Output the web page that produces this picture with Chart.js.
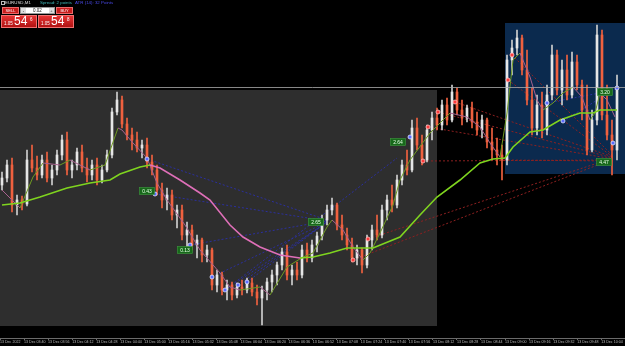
<!DOCTYPE html>
<html>
<head>
<meta charset="utf-8">
<script src="https://cdn.jsdelivr.net/npm/chart.js@4.4.0/dist/chart.umd.min.js"></script>
<style>
  html, body { margin: 0; padding: 0; background: #000; }
  #wrap { position: relative; width: 625px; height: 346px; overflow: hidden; background: #000; }
  #chart { position: absolute; left: 0; top: 0; }
  #panel { position: absolute; left: 0; top: 0; width: 120px; height: 30px; font-family: 'Liberation Sans', Arial, sans-serif; }
  #panel div, #panel span { position: absolute; white-space: nowrap; }
  .top { top: 0; height: 6px; font-size: 4.4px; line-height: 6px; }
  .ico { left: 1px; top: 1px; width: 2px; height: 2px; border: 1px solid #bbb; }
  .sym { left: 5px; color: #ddd; }
  .spr { left: 40px; color: #3fb7b7; }
  .atr { left: 75px; color: #4a4ae8; }
  .btn { top: 7px; width: 17px; height: 7px; box-sizing: border-box; background: #c81d1d; border: 1px solid #e96a6a;
         color: #fff; font-size: 4px; line-height: 5px; text-align: center; }
  .spin { top: 7px; left: 20px; width: 35px; height: 7px; background: #fff; box-sizing: border-box; border: 1px solid #999; }
  .spin .m, .spin .p { top: 0; width: 5px; height: 5px; background: #ddd; color: #333; font-size: 4px; line-height: 5px; text-align: center; }
  .spin .m { left: 0; }
  .spin .p { right: 0; }
  .spin .v { left: 0; width: 33px; top: 0; text-align: center; font-size: 4.5px; line-height: 5px; color: #111; }
  .px { top: 15px; width: 36px; height: 13px; box-sizing: border-box; background: linear-gradient(#e63434, #b01212);
        border: 1px solid #f07070; color: #fff; }
  .px .a { left: 2px; top: 5px; font-size: 4.5px; line-height: 5px; }
  .px .b { left: 12px; top: -1px; font-size: 12px; line-height: 13px; }
  .px .c { left: 28px; top: 1px; font-size: 4.5px; line-height: 5px; }
</style>
</head>
<body>
<div id="wrap">
  <canvas id="chart" width="625" height="346"></canvas>
  <div id="panel">
    <div class="top ico"></div>
    <div class="top sym">EURUSD,M1</div>
    <div class="top spr">Spread: 2 points</div>
    <div class="top atr">ATR (14): 32 Points</div>
    <div class="btn" style="left:2px">SELL</div>
    <div class="spin"><span class="v">0.02</span><span class="m">-</span><span class="p">+</span></div>
    <div class="btn" style="left:56px">BUY</div>
    <div class="px" style="left:1px"><span class="a">1.05</span><span class="b">54</span><span class="c">6</span></div>
    <div class="px" style="left:38px"><span class="a">1.05</span><span class="b">54</span><span class="c">8</span></div>
  </div>
</div>
<script>
// EURUSD prices, in points above 1.05000 (e.g. 546 = 1.05546)
const opens = [
  448,455,468,428,433,429,473,465,458,473,
  455,463,478,493,463,468,481,465,458,468,
  453,463,478,521,533,509,498,493,485,488,
  471,463,443,433,438,418,423,398,403,388,
  393,378,383,348,358,343,348,338,346,343,
  350,341,335,343,351,358,368,381,358,363,
  358,383,375,388,397,413,423,428,408,398,
  388,375,383,368,393,403,398,423,433,428,
  453,468,463,505,488,473,503,515,508,528,
  513,541,523,515,525,511,503,513,491,483,
  478,473,573,585,595,563,533,505,528,503,
  538,578,543,563,538,571,548,523,483,513,
  598,518,498,483
];
const highs = [
  461,473,475,438,437,483,488,477,478,481,
  468,483,498,501,473,485,488,475,473,475,
  468,483,525,541,537,515,505,501,493,495,
  478,468,450,445,443,428,428,411,408,398,
  395,388,385,363,361,353,351,350,353,355,
  355,348,347,355,363,371,385,388,368,371,
  388,390,393,401,418,428,435,430,418,405,
  395,388,385,398,408,418,428,438,448,458,
  473,483,513,515,498,508,521,525,533,535,
  548,545,533,528,531,521,518,515,505,495,
  488,578,593,603,598,583,545,538,541,548,
  588,583,573,578,581,578,553,548,523,608,
  603,548,513,558
];
const lows = [
  443,451,421,418,423,427,461,453,455,451,
  448,458,473,458,455,463,461,451,453,448,
  450,461,475,518,505,493,483,481,475,465,
  458,438,425,423,413,405,393,385,383,375,
  371,371,343,341,338,333,333,335,338,340,
  337,328,308,333,341,348,363,353,348,353,
  355,371,371,381,393,408,418,403,393,383,
  371,368,360,365,383,393,395,413,421,425,
  448,458,461,483,468,471,493,503,503,508,
  511,518,508,511,505,498,495,485,473,468,
  453,468,558,578,558,528,498,498,495,498,
  533,538,528,533,535,543,513,478,481,508,
  513,493,458,473
];
const closes = [
  455,468,428,433,429,473,465,458,473,455,
  463,478,493,463,468,481,465,458,468,453,
  463,478,521,533,509,498,493,485,488,471,
  463,443,433,438,418,423,398,403,388,393,
  378,383,348,358,343,348,338,346,343,350,
  341,335,343,351,358,368,381,358,363,358,
  383,375,388,397,413,423,428,408,398,388,
  375,383,368,393,403,398,423,433,428,453,
  468,463,505,488,473,503,515,508,528,513,
  541,523,515,525,511,503,513,491,483,478,
  473,573,585,595,563,533,505,528,503,538,
  578,543,563,538,571,548,523,483,513,598,
  518,498,483,546
];

const bidPrice = 546;

// time axis labels
const timeLabels = [
  '13 Dec 2022', '13 Dec 03:40', '13 Dec 03:56', '13 Dec 04:12', '13 Dec 04:28', '13 Dec 04:44',
  '13 Dec 05:00', '13 Dec 05:16', '13 Dec 05:32', '13 Dec 05:48', '13 Dec 06:04', '13 Dec 06:20',
  '13 Dec 06:36', '13 Dec 06:52', '13 Dec 07:08', '13 Dec 07:24', '13 Dec 07:40', '13 Dec 07:56',
  '13 Dec 08:12', '13 Dec 08:28', '13 Dec 08:44', '13 Dec 09:00', '13 Dec 09:16', '13 Dec 09:32',
  '13 Dec 09:48', '13 Dec 10:04'
];

// slow moving average [bar, price]
const slowMA = [
  [0,428],[3.6,430],[7.6,436],[13,445],[17.6,450],[21.6,453],[23.6,459],[27.6,466],[29.6,468],
  [31.6,465],[35.6,453],[39.6,440],[41.6,433],[45.6,408],[48.2,396],[51.6,386],[55.6,378],[59.6,375],
  [62.2,376],[65.6,380],[69,385],[74.2,385],[79.6,396],[83.6,418],[87,436],[91.6,453],[95.6,470],
  [98.2,474],[100.6,475],[102.2,486],[105.6,501],[108.2,503],[111.6,513],[115.6,520],[118.2,520],
  [119.6,523],[123,523]
];

// fast moving average [bar, price]
const fastMA = [
  [0,443],[3.6,425],[6.2,456],[8.2,470],[11.6,468],[13.6,473],[17.6,463],[20.6,468],[22,488],
  [23.2,505],[24,503],[26.2,490],[29,475],[31,450],[33,433],[36.6,408],[39.6,383],[43.6,360],
  [45.6,346],[47.6,343],[51.6,346],[53.6,338],[57,366],[60.2,376],[62.2,380],[65,406],[66,413],
  [68.2,403],[70.2,386],[72.2,373],[73.6,380],[75.6,400],[78.2,428],[79.6,453],[81.6,473],
  [85.6,500],[88.2,513],[89.6,520],[93,516],[95.6,506],[97.6,490],[99.6,476],[101,520],
  [102.2,573],[103.6,580],[105.6,556],[107,533],[108.2,523],[110.2,530],[112.2,540],[114.2,546],
  [116,536],[117.6,513],[118.6,520],[119.6,540],[121,533],[122.6,516]
];

// pivot fan lines [bar0, price0, bar1, price1]
const blueFans = [
  [29,474,65,413],[30.6,439,65,412],[37.6,388,65,412],[42,356,65,411],[44.6,343,65,411],
  [47.2,348,65,411],[49,351,65,411],[44.6,343,79,475],[109,530,120.6,541],[112.2,512,123,545]
];
const redFans = [
  [70.2,373,122.2,474],[73.2,394,122.2,475],[84.2,472,122.2,473],[85.2,506,122.2,474],
  [87.2,521,122.2,475],[90.6,531,122.2,476],[101.2,553,122.2,476],[102,578,122.2,477],
  [99.6,473,122.2,472]
];
const blueDots = [
  [29,474],[30.6,439],[37.6,388],[42,356],[44.6,343],[47.2,348],[49,351],[81.6,496],
  [109,530],[112.2,512],[123,545],[122.2,490]
];
const redDots = [
  [70.2,373],[73.2,394],[84.2,472],[85.2,506],[87.2,521],[90.6,531],[101.2,553],[102,578]
];

// pivot value tags [text, bar, price]
const tags = [
  ['0.43',29,442],['0.13',36.6,383],['2.65',62.8,411],['2.64',79.2,491],['3.20',120.6,541],['4.47',120.4,471]
];

// zones [bar0, bar1, priceTop, priceBottom, colour]
const zones = [
  [-0.4, 87, 543, 307, '#2e2e2e'],
  [100.6, 124.6, 610, 459, '#0b2a4e']
];

const bullCol = '#e6e6e6';
const bearCol = '#f0613f';
const limeCol = '#7fd41f';
const pinkCol = '#df6fb8';

const idx = opens.map((_, i) => i);
const up = i => closes[i] >= opens[i];

const pt = ([x, y]) => ({ x, y });

const zonePlugin = {
  id: 'zones',
  beforeDatasetsDraw(chart) {
    const { ctx, scales: { x, y } } = chart;
    ctx.save();
    zones.forEach(z => {
      const x0 = x.getPixelForValue(z[0]), x1 = x.getPixelForValue(z[1]);
      const y0 = y.getPixelForValue(z[2]), y1 = y.getPixelForValue(z[3]);
      ctx.fillStyle = z[4];
      ctx.fillRect(x0, y0, x1 - x0, y1 - y0);
    });
    ctx.restore();
  },
  afterDatasetsDraw(chart) {
    const { ctx, chartArea, scales: { x, y } } = chart;
    ctx.save();
    // bid line
    const by = Math.round(y.getPixelForValue(bidPrice)) + 0.5;
    ctx.strokeStyle = 'rgba(170,170,170,0.8)';
    ctx.lineWidth = 1;
    ctx.beginPath();
    ctx.moveTo(chartArea.left, by);
    ctx.lineTo(chartArea.right, by);
    ctx.stroke();
    // tags
    ctx.font = '5px "Liberation Sans", Arial, sans-serif';
    ctx.textAlign = 'center';
    ctx.textBaseline = 'middle';
    tags.forEach(t => {
      const cx = x.getPixelForValue(t[1]), cy = y.getPixelForValue(t[2]);
      ctx.fillStyle = '#17691a';
      ctx.fillRect(cx - 7.5, cy - 3.5, 15, 7);
      ctx.strokeStyle = '#3f9a3f';
      ctx.lineWidth = 0.6;
      ctx.strokeRect(cx - 7.5, cy - 3.5, 15, 7);
      ctx.fillStyle = '#e8ffe8';
      ctx.fillText(t[0], cx, cy + 0.3);
    });
    ctx.restore();
  }
};

const datasets = [];

redFans.forEach(f => datasets.push({
  type: 'line', data: [{ x: f[0], y: f[1] }, { x: f[2], y: f[3] }],
  borderColor: '#8e2020', borderWidth: 1, borderDash: [2, 2], pointRadius: 0, order: 6
}));
blueFans.forEach(f => datasets.push({
  type: 'line', data: [{ x: f[0], y: f[1] }, { x: f[2], y: f[3] }],
  borderColor: '#2b2f9e', borderWidth: 1, borderDash: [2, 2], pointRadius: 0, order: 6
}));

// candle wicks
datasets.push({
  type: 'bar',
  data: idx.map(i => ({ x: i, y: [lows[i], highs[i]] })),
  backgroundColor: idx.map(i => up(i) ? '#cfcfcf' : bearCol),
  barThickness: 1, grouped: false, order: 5
});
// candle bodies
datasets.push({
  type: 'bar',
  data: idx.map(i => ({ x: i, y: [Math.min(opens[i], closes[i]), Math.max(opens[i], closes[i])] })),
  backgroundColor: idx.map(i => up(i) ? bullCol : bearCol),
  barThickness: 2, minBarLength: 1, grouped: false, order: 4
});

datasets.push({
  type: 'line', data: fastMA.map(pt), borderWidth: 1, pointRadius: 0, order: 3,
  segment: { borderColor: c => c.p1.parsed.y < c.p0.parsed.y ? '#a8628f' : '#6f9a22' }
});
datasets.push({
  type: 'line', data: slowMA.map(pt), borderWidth: 1.6, pointRadius: 0, order: 2,
  segment: { borderColor: c => c.p1.parsed.y < c.p0.parsed.y ? pinkCol : limeCol }
});
datasets.push({
  type: 'scatter', data: blueDots.map(pt), pointRadius: 2, backgroundColor: '#5b6cff',
  borderColor: '#dfe4ff', borderWidth: 0.8, order: 1
});
datasets.push({
  type: 'scatter', data: redDots.map(pt), pointRadius: 2, backgroundColor: '#ff3b3b',
  borderColor: '#ffc0c0', borderWidth: 0.8, order: 1
});

new Chart(document.getElementById('chart'), {
  type: 'bar',
  data: { datasets },
  plugins: [zonePlugin],
  options: {
    responsive: false,
    animation: false,
    events: [],
    layout: { padding: 0, autoPadding: false },
    plugins: { legend: { display: false }, tooltip: { enabled: false } },
    scales: {
      x: {
        type: 'linear',
        offset: false,
        min: -0.4,
        max: 124.6,
        afterFit: s => {
          s.height = 8;
          s.paddingLeft = 0; s.paddingRight = 0; s.paddingTop = 0; s.paddingBottom = 0;
        },
        afterBuildTicks: s => {
          s.ticks = timeLabels.map((_, k) => ({ value: -0.4 + k * 4.81 }));
        },
        ticks: {
          autoSkip: false, maxRotation: 0, align: 'start', padding: 0,
          color: '#bdbdbd', font: { size: 3.6, family: 'Liberation Sans' },
          callback: (v, k) => timeLabels[k]
        },
        grid: { drawOnChartArea: false, offset: false, tickLength: 2, color: '#6a6a6a' },
        border: { color: '#6a6a6a' }
      },
      y: { display: false, min: 295, max: 633 }
    }
  }
});
</script>
</body>
</html>
